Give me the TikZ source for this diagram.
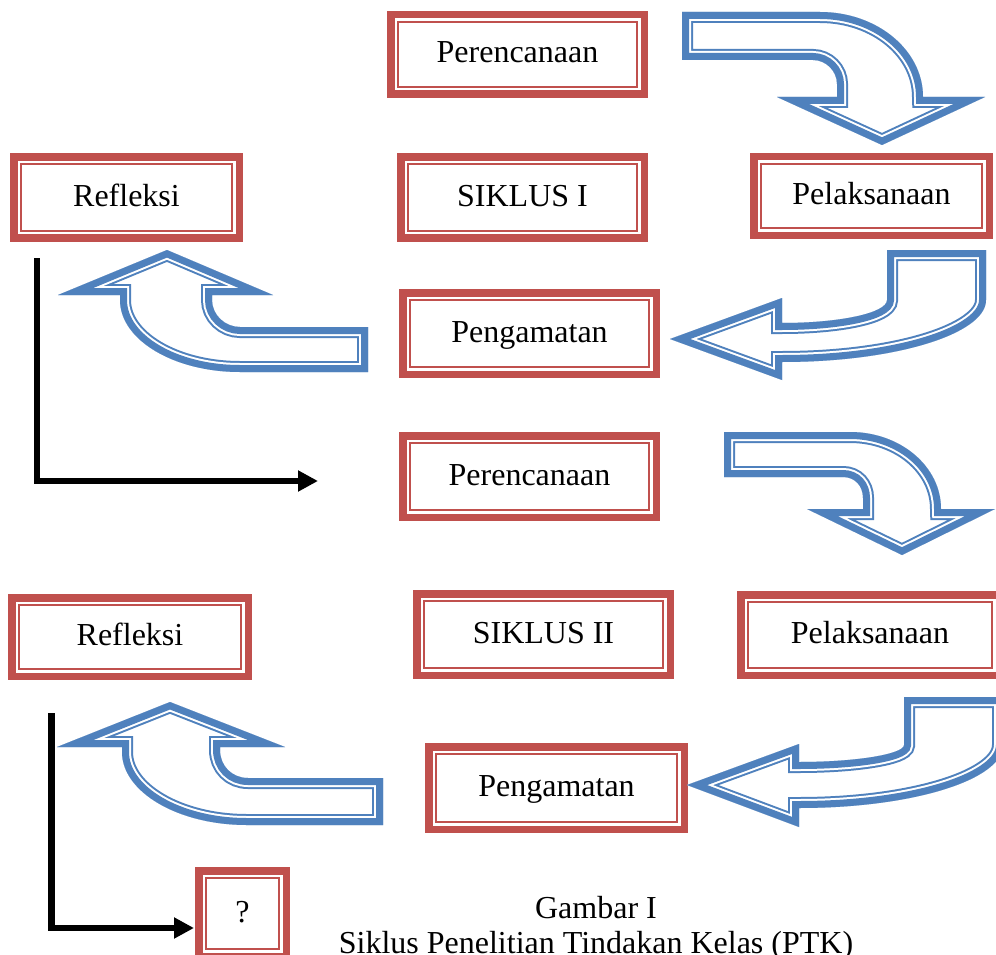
\documentclass[tikz,border=0pt]{standalone}
\usepackage{fontspec}
\setmainfont{Liberation Serif}
\usetikzlibrary{arrows.meta}
\definecolor{boxred}{HTML}{C0504D}
\definecolor{arrowblue}{HTML}{4F81BD}
\tikzset{
  frame/.style={draw=boxred, line width=7.5pt, inner sep=0pt, fill=white,
    font=\fontsize{32}{38}\selectfont, text height=24pt, text depth=7pt},
  innerframe/.style={draw=boxred, line width=2pt},
  flow/.style={line width=6.5pt, -{Triangle[length=20pt,width=20pt]}},
}
% block arrow with thick-thin outline
\newcommand\bentarrow[1]{%
  \begin{scope}
    \clip #1;
    \draw[arrowblue, line width=22pt, line join=miter] #1;
    \draw[white, line width=18pt, line join=miter] #1;
    \draw[arrowblue, line width=14pt, line join=miter] #1;
  \end{scope}}
\begin{document}
\begin{tikzpicture}[x=1pt,y=-1pt]
  \useasboundingbox (0,0) rectangle (996,955);
  % boxes
  \foreach \n/\cx/\cy/\w/\h/\t in {
      plan1/517.5/54.5/261/87/Perencanaan,
      refl1/126.5/197.5/233/88/Refleksi,
      cyc1/522.5/197.5/251/88/SIKLUS I,
      act1/871.5/196/243/86/Pelaksanaan,
      obs1/529.5/333.5/261/89/Pengamatan,
      plan2/529.5/476.5/261/89/Perencanaan,
      refl2/130/637/244/86/Refleksi,
      cyc2/543.5/634.5/261/89/SIKLUS II,
      act2/870/635/266/88/Pelaksanaan,
      obs2/556.5/788/263/90/Pengamatan,
      end/242.5/913.5/95/93/?}{
    \node[frame, minimum width={\w pt-7.5pt}, minimum height={\h pt-7.5pt}]
      (\n) at (\cx,\cy) {\t};
    \draw[innerframe] ([shift={(11pt,-11pt)}]\n.north west)
      rectangle ([shift={(-11pt,11pt)}]\n.south east);
  }
  % bent arrows
  \bentarrow{(682,12) -- (820,12) .. controls (877,12) and (923,50) .. (923,97)
    -- (985,97) -- (882,145) -- (777,97) -- (837,97) -- (837,84)
    .. controls (837,71) and (826,60) .. (813,60) -- (682,60) -- cycle}
  \bentarrow{(670,339) -- (782,298) -- (782,323)
    .. controls (840,323) and (887,313) .. (887,300) -- (887,250) -- (986,250)
    -- (986,300) .. controls (986,334) and (895,362) .. (782,362)
    -- (782,380) -- cycle}
  \bentarrow{(167,250) -- (273,295) -- (212,295) -- (212,300)
    .. controls (212,315) and (225,327) .. (240,327) -- (368,327) -- (368,372)
    -- (240,372) .. controls (174,372) and (120,340) .. (120,300)
    -- (120,295) -- (58,295) -- cycle}
  \bentarrow{(724,432) -- (850,432) .. controls (900,432) and (941,466) .. (941,509)
    -- (995,509) -- (902,555) -- (807,509) -- (863,509) -- (863,498)
    .. controls (863,486) and (855,477) .. (843,477) -- (724,477) -- cycle}
  \bentarrow{(687,785) -- (799,744) -- (799,762)
    .. controls (857,762) and (904,754) .. (904,745) -- (904,697) -- (1003,697)
    -- (1003,745) .. controls (1003,780) and (912,808) .. (799,808)
    -- (799,827) -- cycle}
  \bentarrow{(170,702) -- (285,747) -- (220,747) -- (220,750)
    .. controls (220,766) and (232,778) .. (248,778) -- (383,778) -- (383,825)
    -- (247,825) .. controls (178,825) and (122,792) .. (122,752)
    -- (122,747) -- (57,747) -- cycle}
  % back to the next cycle
  \coordinate (loop1) at (37,258);
  \coordinate (loop1end) at (318,481);
  \coordinate (loop2) at (51.5,713);
  \coordinate (loop2end) at (194,928);
  \draw[flow] (loop1) |- (loop1end);
  \draw[flow] (loop2) |- (loop2end);
  % caption
  \node[anchor=base, align=center, font=\fontsize{32}{35}\selectfont]
    (caption) at (596,953) {Gambar I\\Siklus Penelitian Tindakan Kelas (PTK)};
\end{tikzpicture}
\end{document}
